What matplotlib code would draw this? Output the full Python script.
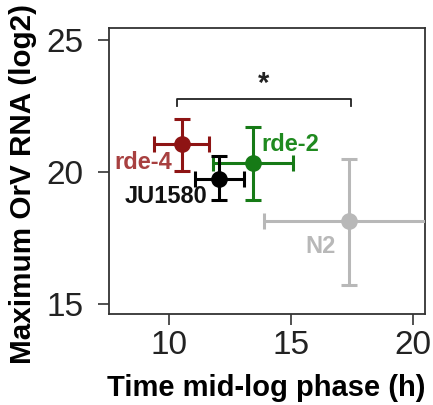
import matplotlib
matplotlib.use("Agg")
import matplotlib.pyplot as plt

plt.rcParams['font.family'] = ['Liberation Sans', 'DejaVu Sans']

# strains and their values
strains = ["rde-4", "JU1580", "rde-2", "N2"]
mid_log = [10.5, 12.05, 13.45, 17.4]
x_lo = [9.36, 11.04, 11.81, 13.9]
x_hi = [11.64, 13.07, 15.1, 21.5]
orv_max = [21.04, 19.72, 20.32, 18.12]
y_lo = [20.04, 18.93, 18.93, 15.7]
y_hi = [21.99, 20.6, 21.7, 20.5]

colors = ["#8e1414", "#000000", "#167a16", "#b8b8b8"]
label_colors = ["#a84040", "#111111", "#1f8a1f", "#b8b8b8"]

# label anchors and alignment
label_pos = [(10.1, 20.34, "right"), (11.55, 19.06, "right"),
             (13.8, 21.04, "left"), (16.2, 17.17, "center")]

# significance bracket
bracket_x = [10.3, 17.45]
bracket_y = 22.75
star = "*"

fig = plt.figure(figsize=(4.33, 4.05), dpi=100)
ax = fig.add_axes([0.251, 0.224, 0.730, 0.707])

for i, s in enumerate(strains):
    xe = [[mid_log[i] - x_lo[i]], [x_hi[i] - mid_log[i]]]
    ye = [[orv_max[i] - y_lo[i]], [y_hi[i] - orv_max[i]]]
    ax.errorbar(mid_log[i], orv_max[i], xerr=xe, yerr=ye, fmt="o",
                color=colors[i], ms=11, elinewidth=2.2, capsize=6,
                capthick=2.2, zorder=3 if i != 1 else 4)
    lx, ly, ha = label_pos[i]
    ax.text(lx, ly, s, color=label_colors[i], fontsize=17, fontweight="bold",
            ha=ha, va="center")

ax.plot([bracket_x[0], bracket_x[0], bracket_x[1], bracket_x[1]],
        [bracket_y - 0.25, bracket_y, bracket_y, bracket_y - 0.25],
        color="#222222", lw=1.3)
ax.text(sum(bracket_x) / 2, bracket_y + 0.05, star, fontsize=21,
        fontweight="bold", ha="center", va="bottom", color="#222222")

ax.set_xlim(7.5, 20.5)
ax.set_ylim(14.6, 25.45)
ax.set_xticks([10, 15, 20])
ax.set_yticks([15, 20, 25])
ax.tick_params(labelsize=24, length=8, width=1.2, color="#333333",
               labelcolor="#222222")
ax.tick_params(axis="y", pad=10)
for sp in ax.spines.values():
    sp.set_linewidth(1.3)
    sp.set_color("#333333")

ax.set_xlabel("Time mid-log phase (h)", fontsize=21, fontweight="bold",
              labelpad=9)
# y label sits a little below the axes centre in the original
fig.text(0.054, 1 - 184 / 405, "Maximum OrV RNA (log2)", fontsize=21.3,
         fontweight="bold", rotation=90, ha="center", va="center")

fig.savefig("out.png", dpi=100)
